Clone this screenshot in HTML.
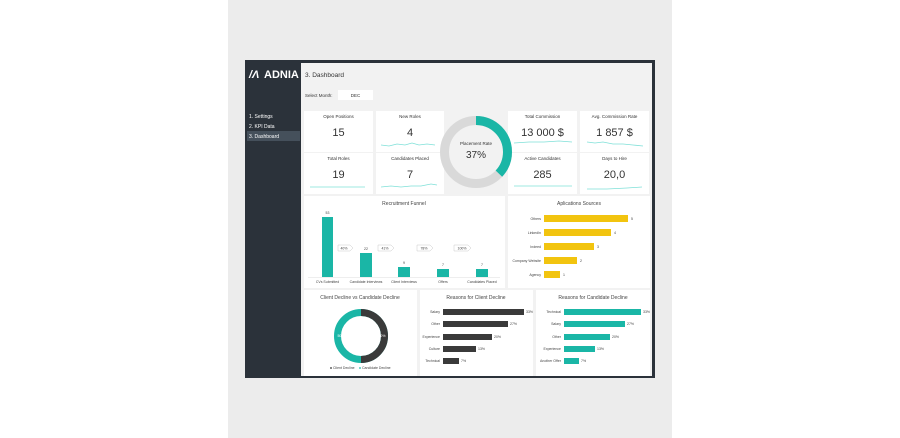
<!DOCTYPE html><html><head><meta charset="utf-8"><style>body{margin:0;background:#fff}svg{display:block;font-family:"Liberation Sans",sans-serif}</style></head><body>
<svg width="900" height="438" viewBox="0 0 900 438">
<rect x="228" y="0" width="444" height="438" fill="#ececec"/>
<rect x="245" y="60" width="410" height="318" fill="#2b323a"/>
<rect x="301" y="63" width="351" height="313" fill="#f2f2f2"/>
<text x="249" y="78" fill="#fff" font-size="11" font-weight="bold" font-style="italic">/Λ</text>
<text x="264" y="78" fill="#fff" font-size="11" font-weight="bold">ADNIA</text>
<text x="249" y="118" fill="#fff" font-size="5">1. Settings</text>
<text x="249" y="128" fill="#fff" font-size="5">2. KPI Data</text>
<rect x="247" y="131" width="53" height="10" fill="#45505b"/>
<text x="249" y="138" fill="#fff" font-size="5">3. Dashboard</text>
<text x="305" y="77" fill="#333" font-size="6.5">3. Dashboard</text>
<text x="305" y="97" fill="#333" font-size="4.5">Select Month:</text>
<rect x="338" y="90" width="35" height="10" fill="#fff"/>
<text x="355.5" y="97" fill="#333" font-size="4.5" text-anchor="middle">DEC</text>
<g font-size="4.5" fill="#333" text-anchor="middle">
<rect x="304" y="111" width="69" height="41" fill="#fff"/><text x="338.5" y="118">Open Positions</text><text x="338.5" y="136" font-size="11">15</text>
<rect x="376" y="111" width="68" height="41" fill="#fff"/><text x="410" y="118">New Roles</text><text x="410" y="136" font-size="11">4</text>
<path d="M381 145 l8 1 8-2 8 1 7-2 7 2 8-1 8 1" stroke="#7fe0d8" fill="none" stroke-width="0.8"/>
<rect x="304" y="153" width="69" height="41" fill="#fff"/><text x="338.5" y="160">Total Roles</text><text x="338.5" y="178" font-size="11">19</text>
<path d="M310 187 h55" stroke="#7fe0d8" fill="none" stroke-width="0.8"/>
<rect x="376" y="153" width="68" height="41" fill="#fff"/><text x="410" y="160">Candidates Placed</text><text x="410" y="178" font-size="11">7</text>
<path d="M381 187 l10-1 10 1 10-1 10 0 10-2 6 1" stroke="#7fe0d8" fill="none" stroke-width="0.8"/>
<rect x="508" y="111" width="69" height="41" fill="#fff"/><text x="542.5" y="118">Total Commission</text><text x="542.5" y="136" font-size="11">13 000 $</text>
<path d="M514 143 l15-1 15 0 15-1 13 1" stroke="#7fe0d8" fill="none" stroke-width="0.8"/>
<rect x="580" y="111" width="69" height="41" fill="#fff"/><text x="614.5" y="118">Avg. Commission Rate</text><text x="614.5" y="136" font-size="11">1 857 $</text>
<path d="M587 142 l8 1 8-1 10 2 10 0 10 1 10 1" stroke="#7fe0d8" fill="none" stroke-width="0.8"/>
<rect x="508" y="153" width="69" height="41" fill="#fff"/><text x="542.5" y="160">Active Candidates</text><text x="542.5" y="178" font-size="11">285</text>
<path d="M514 186 h58" stroke="#7fe0d8" fill="none" stroke-width="0.8"/>
<rect x="580" y="153" width="69" height="41" fill="#fff"/><text x="614.5" y="160">Days to Hire</text><text x="614.5" y="178" font-size="11">20,0</text>
<path d="M587 189 l20 0 20-1 15-1" stroke="#7fe0d8" fill="none" stroke-width="0.8"/>
</g>
<circle cx="476" cy="152" r="31.5" fill="none" stroke="#d9d9d9" stroke-width="9"/>
<circle cx="476" cy="152" r="31.5" fill="none" stroke="#1ab6a6" stroke-width="9" stroke-dasharray="73.2 200" transform="rotate(-90 476 152)"/>
<text x="476" y="145" font-size="4.5" text-anchor="middle" fill="#333">Placement Rate</text>
<text x="476" y="158" font-size="10" text-anchor="middle" fill="#333">37%</text>
<rect x="304" y="196" width="201" height="92" fill="#fff"/>
<rect x="508" y="196" width="142" height="92" fill="#fff"/>
<text x="404" y="205" font-size="5" text-anchor="middle" fill="#444">Recruitment Funnel</text>
<text x="579" y="205" font-size="5" text-anchor="middle" fill="#444">Aplications Sources</text>
<g fill="#1ab6a6"><rect x="322" y="217" width="11" height="60"/><rect x="360" y="253" width="12" height="24"/><rect x="398" y="267" width="12" height="10"/><rect x="437" y="269" width="12" height="8"/><rect x="476" y="269" width="12" height="8"/></g>
<path d="M308 277.5 h192" stroke="#ddd" stroke-width="0.5"/>
<g font-size="3.5" fill="#444" text-anchor="middle"><text x="327.5" y="214">53</text><text x="366" y="250">22</text><text x="404" y="264">9</text><text x="443" y="266">7</text><text x="482" y="266">7</text>
<text x="327.5" y="283">CVs Submitted</text><text x="366" y="283">Candidate Interviews</text><text x="404" y="283">Client Interviews</text><text x="443" y="283">Offers</text><text x="482" y="283">Candidates Placed</text>
<g fill="#fff" stroke="#bbb" stroke-width="0.4"><path d="M338 245 h12 l3 3 -3 3 h-12z"/><path d="M378 245 h13 l3 3 -3 3 h-13z"/><path d="M417 245 h13 l3 3 -3 3 h-13z"/><path d="M454 245 h14 l3 3 -3 3 h-14z"/></g>
<text x="344" y="249.5">40%</text><text x="385" y="249.5">41%</text><text x="424" y="249.5">78%</text><text x="462" y="249.5">100%</text></g>
<g fill="#f2c40f"><rect x="544" y="215" width="84" height="7"/><rect x="544" y="229" width="67" height="7"/><rect x="544" y="243" width="50" height="7"/><rect x="544" y="257" width="33" height="7"/><rect x="544" y="271" width="16" height="7"/></g>
<g font-size="3.5" fill="#444"><g text-anchor="end"><text x="541" y="220">Others</text><text x="541" y="234">LinkedIn</text><text x="541" y="248">Indeed</text><text x="541" y="262">Company Website</text><text x="541" y="276">Agency</text></g>
<text x="631" y="220">5</text><text x="614" y="234">4</text><text x="597" y="248">3</text><text x="580" y="262">2</text><text x="563" y="276">1</text></g>
<rect x="304" y="290" width="113" height="86" fill="#fff"/><rect x="420" y="290" width="113" height="86" fill="#fff"/><rect x="536" y="290" width="114" height="86" fill="#fff"/>
<g font-size="5" text-anchor="middle" fill="#444"><text x="360" y="299">Client Decline vs Candidate Decline</text><text x="476" y="299">Reasons for Client Decline</text><text x="593" y="299">Reasons for Candidate Decline</text></g>
<circle cx="361" cy="336" r="23.5" fill="none" stroke="#1ab6a6" stroke-width="7"/>
<path d="M361 312.5 a23.5 23.5 0 0 1 0 47" fill="none" stroke="#3a3a3a" stroke-width="7"/>
<g font-size="3.5" fill="#fff" text-anchor="middle"><text x="341" y="337">50%</text><text x="382" y="337">50%</text></g>
<g font-size="3.5" fill="#444"><circle cx="331" cy="368" r="0.9" fill="#333"/><text x="333" y="369">Client Decline</text><circle cx="360" cy="368" r="0.9" fill="#1ab6a6"/><text x="362" y="369">Candidate Decline</text></g>
<g fill="#3a3a3a"><rect x="443" y="309" width="81" height="6"/><rect x="443" y="321" width="65" height="6"/><rect x="443" y="334" width="49" height="6"/><rect x="443" y="346" width="33" height="6"/><rect x="443" y="358" width="16" height="6"/></g>
<g fill="#1ab6a6"><rect x="564" y="309" width="77" height="6"/><rect x="564" y="321" width="61" height="6"/><rect x="564" y="334" width="46" height="6"/><rect x="564" y="346" width="31" height="6"/><rect x="564" y="358" width="15" height="6"/></g>
<g font-size="3.5" fill="#444"><g text-anchor="end"><text x="440" y="313">Salary</text><text x="440" y="325">Other</text><text x="440" y="338">Experience</text><text x="440" y="350">Culture</text><text x="440" y="362">Technical</text>
<text x="561" y="313">Technical</text><text x="561" y="325">Salary</text><text x="561" y="338">Other</text><text x="561" y="350">Experience</text><text x="561" y="362">Another Offer</text></g>
<text x="526" y="313">33%</text><text x="510" y="325">27%</text><text x="494" y="338">20%</text><text x="478" y="350">13%</text><text x="461" y="362">7%</text>
<text x="643" y="313">33%</text><text x="627" y="325">27%</text><text x="612" y="338">20%</text><text x="597" y="350">13%</text><text x="581" y="362">7%</text></g>
</svg></body></html>
